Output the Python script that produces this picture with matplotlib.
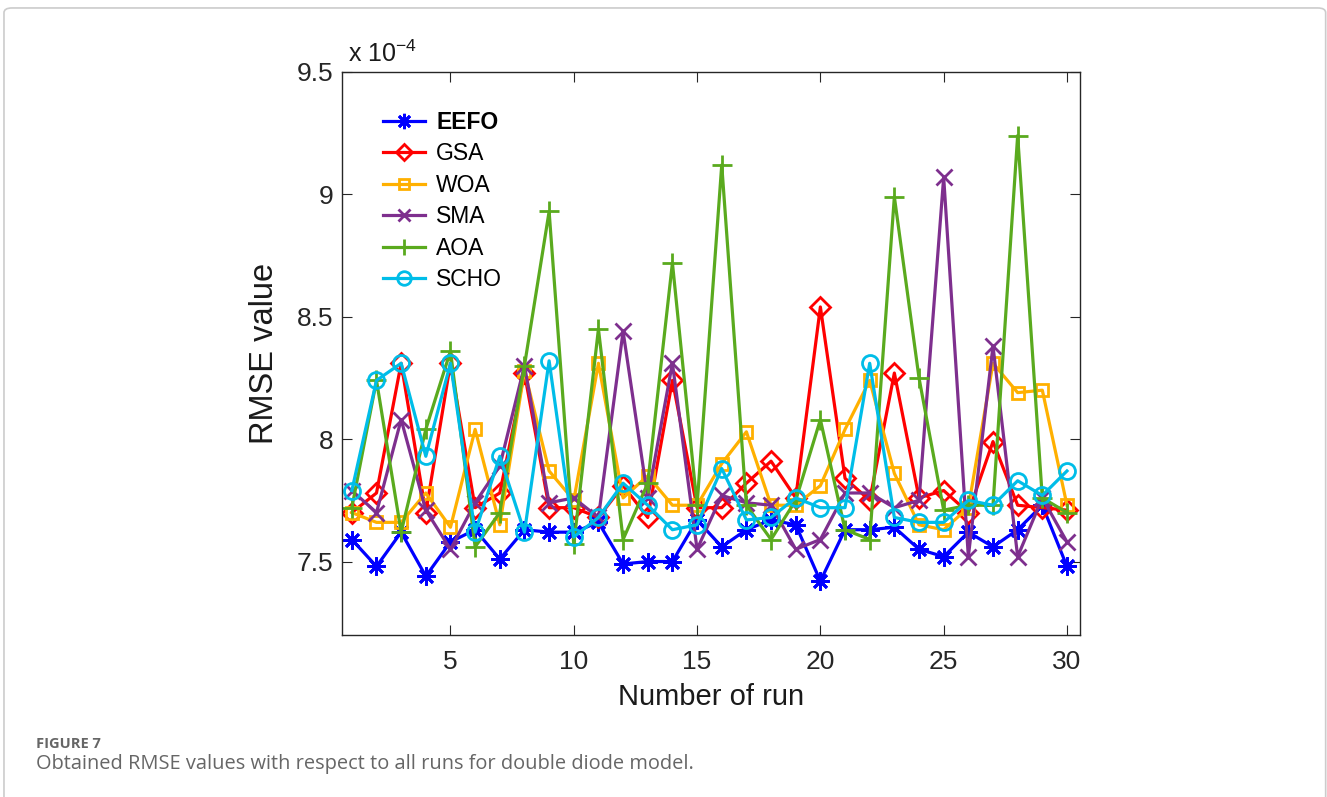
import matplotlib
matplotlib.use('Agg')
import matplotlib.pyplot as plt
from matplotlib.patches import FancyBboxPatch
import numpy as np

plt.rcParams['font.family'] = ['Liberation Sans', 'DejaVu Sans']
plt.rcParams['mathtext.default'] = 'regular'

# RMSE values per run, in units of 1e-4
runs = np.arange(1, 31)
eefo = [7.59, 7.48, 7.62, 7.44, 7.58, 7.63, 7.51, 7.63, 7.62, 7.62,
        7.66, 7.49, 7.50, 7.50, 7.67, 7.56, 7.63, 7.67, 7.65, 7.42,
        7.63, 7.63, 7.64, 7.55, 7.52, 7.62, 7.56, 7.63, 7.73, 7.48]
gsa = [7.70, 7.78, 8.31, 7.70, 8.31, 7.72, 7.78, 8.27, 7.72, 7.72,
       7.68, 7.81, 7.68, 8.24, 7.72, 7.72, 7.82, 7.91, 7.76, 8.54,
       7.84, 7.75, 8.27, 7.76, 7.79, 7.70, 7.99, 7.73, 7.72, 7.71]
woa = [7.70, 7.66, 7.66, 7.78, 7.64, 8.04, 7.65, 8.28, 7.87, 7.75,
       8.31, 7.76, 7.85, 7.73, 7.73, 7.90, 8.03, 7.73, 7.73, 7.81,
       8.04, 8.24, 7.86, 7.65, 7.63, 7.72, 8.31, 8.19, 8.20, 7.73]
sma = [7.79, 7.70, 8.08, 7.71, 7.55, 7.74, 7.89, 8.30, 7.74, 7.76,
       7.68, 8.44, 7.76, 8.31, 7.55, 7.77, 7.74, 7.73, 7.55, 7.59,
       7.78, 7.78, 7.72, 7.75, 9.07, 7.52, 8.38, 7.52, 7.76, 7.58]
aoa = [7.72, 8.24, 7.62, 8.04, 8.36, 7.56, 7.70, 8.30, 8.93, 7.57,
       8.45, 7.59, 7.82, 8.72, 7.73, 9.12, 7.73, 7.59, 7.75, 8.08,
       7.63, 7.59, 8.99, 8.25, 7.71, 7.73, 7.73, 9.24, 7.76, 7.70]
scho = [7.79, 8.24, 8.31, 7.93, 8.31, 7.62, 7.93, 7.62, 8.32, 7.60,
        7.68, 7.82, 7.73, 7.63, 7.65, 7.88, 7.67, 7.68, 7.76, 7.72,
        7.72, 8.31, 7.68, 7.66, 7.66, 7.75, 7.73, 7.83, 7.77, 7.87]

names = ['EEFO', 'GSA', 'WOA', 'SMA', 'AOA', 'SCHO']
series = [eefo, gsa, woa, sma, aoa, scho]
colors = ['#0000FF', '#FF0000', '#FFB000', '#7E2F8E', '#5AAA1E', '#00BDE8']
markers = [(8, 2, 0), 'D', 's', 'x', '+', 'o']
msizes = [13, 10, 8.5, 11, 14, 11.5]

fig = plt.figure(figsize=(13.27, 7.97), dpi=100)
ax = fig.add_axes([0.2577, 0.2033, 0.5562, 0.7064])

for name, vals, c, m, ms in zip(names, series, colors, markers, msizes):
    ax.plot(runs, vals, color=c, marker=m, markersize=ms, linewidth=2.3,
            markerfacecolor='none', markeredgecolor=c, markeredgewidth=2.0,
            label=name)

ax.set_xlim(0.6, 30.53)
ax.set_ylim(7.2, 9.5)
ax.set_xticks([5, 10, 15, 20, 25, 30])
ax.set_yticks([7.5, 8, 8.5, 9, 9.5])
ax.set_yticklabels(['7.5', '8', '8.5', '9', '9.5'])
ax.tick_params(direction='in', top=True, right=True, labelsize=19,
               length=7, width=0.8, colors='#262626')
ax.tick_params(axis='x', pad=11)
ax.tick_params(axis='y', pad=6)
for sp in ax.spines.values():
    sp.set_color('#262626')
    sp.set_linewidth(1.0)
ax.set_xlabel('Number of run', fontsize=21, color='#1a1a1a', labelpad=6)
ax.set_ylabel('RMSE value', fontsize=23.5, color='#1a1a1a', labelpad=12)
ax.text(0.008, 1.008, r'x 10$^{-4}$', transform=ax.transAxes, fontsize=18,
        color='#1a1a1a', va='bottom', ha='left')

leg = ax.legend(loc='upper left', bbox_to_anchor=(0.056, 0.931), frameon=False,
                fontsize=16.5, handlelength=1.8, handletextpad=0.5,
                labelspacing=0.37, borderpad=0, borderaxespad=0,
                markerscale=0.85)
leg.get_texts()[0].set_fontweight('bold')

# caption and border
fig.text(0.027, 0.061, 'FIGURE 7', fontsize=10.5, fontweight='bold',
         color='#666666', family=['Open Sans', 'DejaVu Sans'])
fig.text(0.027, 0.035, 'Obtained RMSE values with respect to all runs for double diode model.',
         fontsize=14.4, color='#666666', family=['Open Sans', 'DejaVu Sans'])
border = FancyBboxPatch((0.003, -0.05), 0.996, 1.04, boxstyle='round,pad=0,rounding_size=0.006',
                        transform=fig.transFigure, facecolor='none',
                        edgecolor='#cccccc', linewidth=1.2)
fig.patches.append(border)

fig.savefig('out.png', dpi=100)
